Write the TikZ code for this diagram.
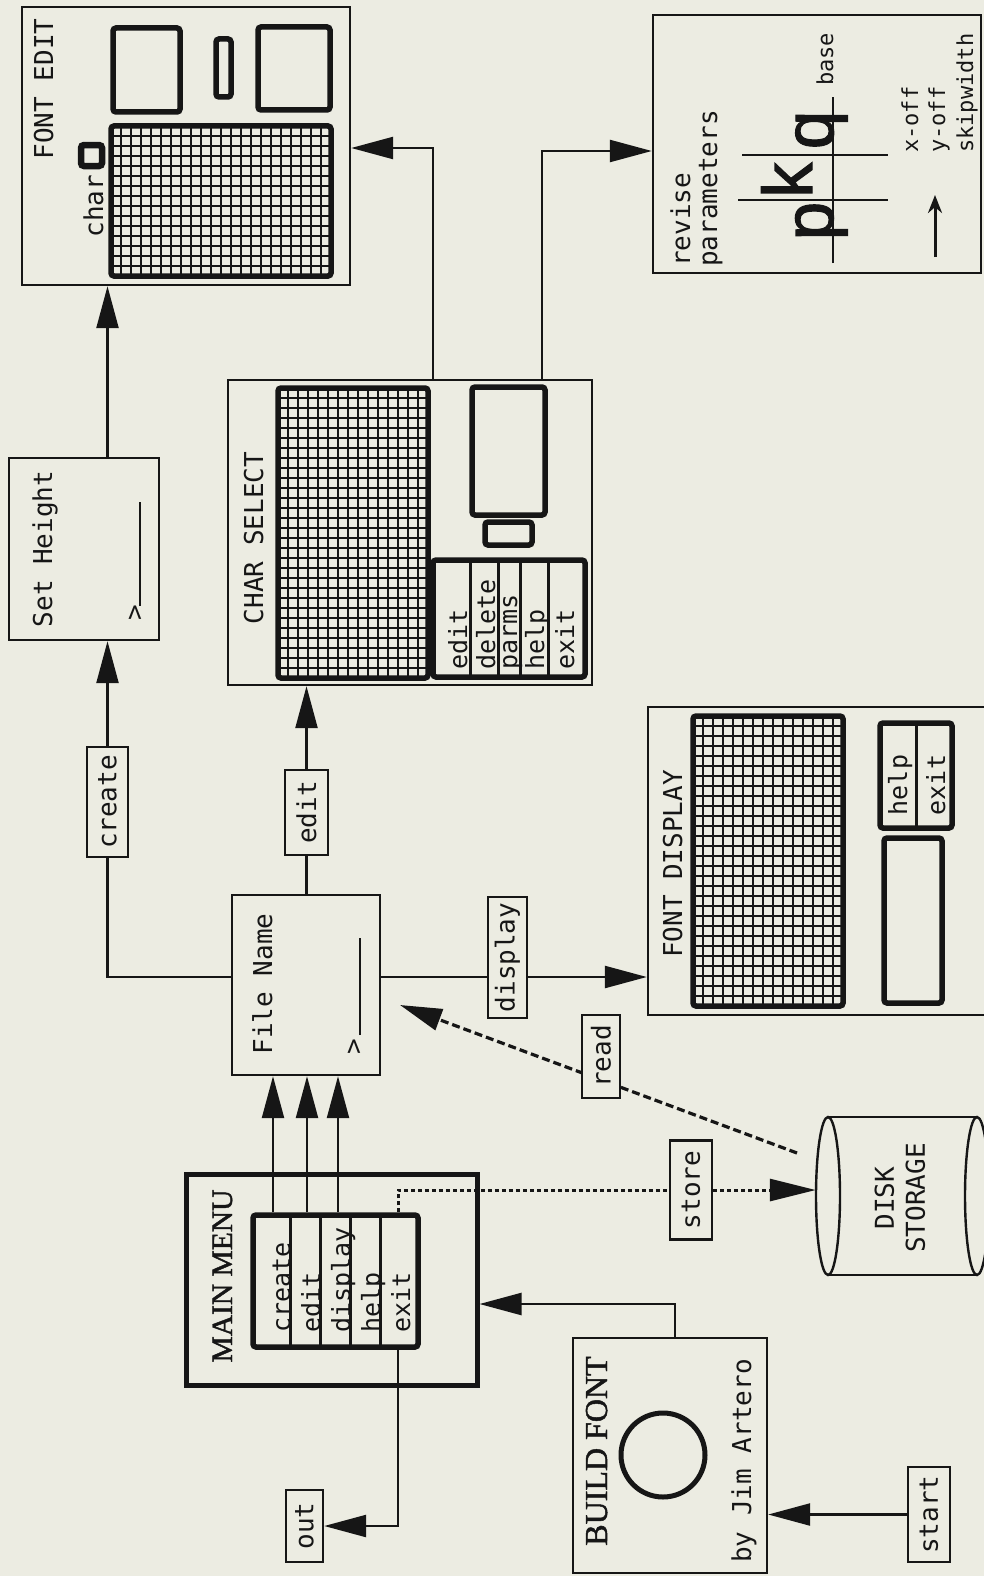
\documentclass[tikz,border=0pt]{standalone}
\usepackage{fontspec}
\usepackage{graphicx}
\usetikzlibrary{arrows.meta}
\newfontfamily\monofam{DejaVu Sans Mono}
\newfontfamily\courfam[FakeBold=1.6]{Liberation Mono}
\newfontfamily\titlefam[FakeBold=1.5]{Liberation Serif}
\newcommand\lblfont{\monofam\fontsize{26}{31}\selectfont}
\newcommand\menufont{\monofam\fontsize{25}{30}\selectfont}
\newcommand\smlfont{\monofam\fontsize{22}{27.5}\selectfont}
\newcommand\mmfont{\titlefam\fontsize{29.5}{35}\selectfont}
\newcommand\bffont{\titlefam\fontsize{32}{38}\selectfont}
\newcommand\pkqfont{\courfam\fontsize{70}{80}\selectfont}
\definecolor{bg}{RGB}{236,236,226}
\definecolor{ink}{RGB}{22,22,22}
\newcommand\mkgrid[6]{%
  \pgfmathtruncatemacro\gnc{#5-1}%
  \pgfmathtruncatemacro\gnr{#6-1}%
  \foreach \i in {1,...,\gnc}{\draw[gridl] ({#1+(#3-#1)*\i/#5},#2) -- ({#1+(#3-#1)*\i/#5},#4);}%
  \foreach \j in {1,...,\gnr}{\draw[gridl] (#1,{#2+(#4-#2)*\j/#6}) -- (#3,{#2+(#4-#2)*\j/#6});}%
  \draw[tbox] (#1,#2) rectangle (#3,#4);%
}
\tikzset{
  box/.style={draw=ink, line width=2.4pt, fill=bg, inner sep=0pt},
  lbox/.style={box, font=\lblfont, text=ink},
  tbox/.style={draw=ink, line width=5.5pt, rounded corners=3pt},
  txt/.style={inner sep=0pt, rotate=90, font=\lblfont, text=ink},
  mtxt/.style={txt, font=\menufont},
  conn/.style={draw=ink, line width=2.4pt},
  arr/.style={conn, -{Triangle[length=42pt, width=22pt]}},
  dotl/.style={conn, line width=3pt, dash pattern=on 4pt off 3pt},
  dashl/.style={line width=3.2pt, dash pattern=on 8pt off 4pt},
  gridl/.style={draw=ink, line width=1.2pt},
  divl/.style={draw=ink, line width=3pt},
}
\begin{document}
\begin{tikzpicture}[x=1pt,y=-1pt]
\useasboundingbox (0,0) rectangle (984,1576);
\fill[bg] (0,0) rectangle (984,1576);

% ---------- FONT EDIT ----------
\node[box, minimum width=328, minimum height=278] (fe) at (186,146) {};
\node[txt, anchor=base] (fetitle) at (53,89) {FONT EDIT};
\node[txt, anchor=base] (fechar) at (103,206) {char};
\draw[tbox, line width=6.5pt] (81,145) rectangle (102,166);
\draw[tbox] (113,28) rectangle (180,112);
\draw[tbox] (216,39) rectangle (231,97);
\draw[tbox] (258,27) rectangle (330,110);
\mkgrid{111}{126}{331}{276}{22}{15}

% ---------- Set Height ----------
\node[box, minimum width=150, minimum height=182] (sh) at (84,549) {};
\node[txt, anchor=base] (shtitle) at (52,549) {Set Height};
\node[txt, anchor=base] (shprompt) at (143,613) {>};
\draw[conn, line width=2.8pt] (140,606) -- (140,502);

% ---------- File Name ----------
\node[box, minimum width=148, minimum height=180] (fn) at (306,985) {};
\node[txt, anchor=base] (fntitle) at (272,984) {File Name};
\node[txt, anchor=base] (fnprompt) at (362,1047) {>};
\draw[conn, line width=2.8pt] (360,1035) -- (360,938);

% ---------- CHAR SELECT ----------
\node[box, minimum width=364, minimum height=305] (cs) at (410,532.5) {};
\node[txt, anchor=base] (cstitle) at (263,538) {CHAR SELECT};
\mkgrid{278}{388}{428}{678}{15}{29}
\draw[tbox] (472,387) rectangle (545,515);
\draw[tbox] (485,522) rectangle (532,545);
\node[box, line width=5.5pt, rounded corners=3pt, minimum width=152, minimum height=117] (csmenu) at (509,618.5) {};
\foreach \dx in {470,498,520,548} \draw[divl] (\dx,560) -- (\dx,677);
\node[mtxt, anchor=base west] (csedit) at (467,670) {edit};
\node[mtxt, anchor=base west] (csdelete) at (495,670) {delete};
\node[mtxt, anchor=base west] (csparms) at (517,670) {parms};
\node[mtxt, anchor=base west] (cshelp) at (544,670) {help};
\node[mtxt, anchor=base west] (csexit) at (574,670) {exit};

% ---------- revise parameters ----------
\node[box, minimum width=328, minimum height=258] (rp) at (817,144) {};
\node[txt, anchor=base west] (rprev) at (690,267) {revise};
\node[txt, anchor=base west] (rppar) at (717,267) {parameters};
\draw[conn] (833,263) -- (833,97);
\draw[conn] (738,200) -- (888,200);
\draw[conn] (742,155) -- (888,155);
\node[txt, font=\pkqfont, anchor=base] (pkqp) at (833,221) {p};
\node[txt, font=\pkqfont, anchor=base] (pkqk) at (812,180) {k};
\node[txt, font=\pkqfont, anchor=base] (pkqq) at (833,130) {q};
\node[txt, font=\smlfont, anchor=base west] (rpbase) at (833,86) {base};
\draw[conn, line width=3pt, -{Stealth[length=18pt, width=14pt]}] (935,257) -- (935,195);
\node[txt, font=\smlfont, anchor=base west] (rpx) at (918,153) {x-off};
\node[txt, font=\smlfont, anchor=base west] (rpy) at (945,153) {y-off};
\node[txt, font=\smlfont, anchor=base west] (rps) at (973,153) {skipwidth};

% ---------- FONT DISPLAY ----------
\node[box, minimum width=342, minimum height=308] (fd) at (819,861) {};
\node[txt, anchor=base] (fdtitle) at (682,864) {FONT DISPLAY};
\mkgrid{693}{716}{843}{1006}{15}{29}
\node[box, line width=5.5pt, rounded corners=3pt, minimum width=72, minimum height=105] (fdmenu) at (916,775.5) {};
\draw[divl] (916,723) -- (916,828);
\node[mtxt, anchor=base] (fdhelp) at (907,785) {help};
\node[mtxt, anchor=base] (fdexit) at (945,785) {exit};
\draw[tbox] (884,838) rectangle (942,1003);

% ---------- MAIN MENU ----------
\node[box, line width=5pt, minimum width=291, minimum height=211] (mm) at (331.5,1279.5) {};
\node[txt, font=\mmfont, anchor=base] (mmtitle) at (232,1276) {MAIN MENU};
\node[box, line width=5.5pt, rounded corners=3pt, minimum width=165, minimum height=132] (mmenu) at (335.5,1281) {};
\foreach \dx in {290,320,350,380} \draw[divl] (\dx,1215) -- (\dx,1347);
\node[mtxt, anchor=base west] (mmcreate) at (290,1333) {create};
\node[mtxt, anchor=base west] (mmedit) at (320,1333) {edit};
\node[mtxt, anchor=base west] (mmdisplay) at (350,1333) {display};
\node[mtxt, anchor=base west] (mmhelp) at (380,1333) {help};
\node[mtxt, anchor=base west] (mmexit) at (410,1333) {exit};

% ---------- BUILD FONT ----------
\node[box, minimum width=194, minimum height=235] (bf) at (670,1455.5) {};
\node[txt, font=\bffont, anchor=base] (bftitle) at (607,1451) {BUILD FONT};
\draw[draw=ink, line width=5pt] (663,1455) circle[radius=42];
\node[txt, anchor=base] (bfby) at (751,1461) {by Jim Artero};

% ---------- DISK STORAGE ----------
\node[inner sep=0pt, minimum width=172, minimum height=158] (disk) at (902,1196) {};
\draw[conn] (828,1117) -- (977,1117);
\draw[conn] (828,1275) -- (977,1275);
\draw[conn] (828,1196) ellipse[x radius=12, y radius=79];
\draw[conn] (977,1196) ellipse[x radius=12, y radius=79];
\node[txt, align=center] (disktxt) at (900,1198) {DISK\\STORAGE};

% ---------- read (dashed) ----------
\coordinate (rdstart) at (797,1153);
\coordinate (rdend) at (400,1005);
\draw[arr, dashl] (rdstart) -- (rdend);

% ---------- labels ----------
\node[lbox, minimum width=41, minimum height=110] (lcreate) at (107.5,802) {\rotatebox{90}{create}};
\node[lbox, minimum width=43, minimum height=85] (ledit) at (306.5,812.5) {\rotatebox{90}{edit}};
\node[lbox, minimum width=39, minimum height=121] (ldisplay) at (507.5,957.5) {\rotatebox{90}{display}};
\node[lbox, minimum width=38, minimum height=83] (lread) at (601,1056.5) {\rotatebox{90}{read}};
\node[lbox, minimum width=42, minimum height=99] (lstore) at (691,1190) {\rotatebox{90}{store}};
\node[lbox, minimum width=37, minimum height=72] (lout) at (304.5,1526) {\rotatebox{90}{out}};
\node[lbox, minimum width=42, minimum height=95] (lstart) at (929,1514.5) {\rotatebox{90}{start}};

% ---------- connectors ----------
\draw[arr] (lstart.west) -- (bf.east |- lstart.west);
\draw[arr] (bf.north -| 675,0) |- (mm.east |- 0,1304);
\foreach \ax in {273,307,338} \draw[arr] (mmenu.north -| \ax,0) -- (fn.south -| \ax,0);
\draw[arr] (mmenu.south -| 398,0) |- (lout.east);
\draw[dotl] (mmenu.north -| 398,0) |- (lstore.west);
\draw[dotl, -{Triangle[length=46pt, width=22pt]}] (lstore.east) -- (disk.west |- lstore.east);
\draw[conn] (fn.east |- 0,977) -- (ldisplay.west |- 0,977);
\draw[arr] (ldisplay.east |- 0,977) -- (fd.west |- 0,977);
\draw[conn] (fn.west |- 0,977) -| (lcreate.south);
\draw[arr] (lcreate.north) -- (sh.south -| lcreate.north);
\draw[arr] (sh.north -| lcreate.north) -- (fe.south -| lcreate.north);
\draw[conn] (fn.north -| ledit.south) -- (ledit.south);
\draw[arr] (ledit.north) -- (cs.south -| ledit.north);
\draw[arr] (cs.north -| 433,0) |- (fe.east |- 0,148);
\draw[arr] (cs.north -| 542,0) |- (rp.west |- 0,151);
\end{tikzpicture}
\end{document}
